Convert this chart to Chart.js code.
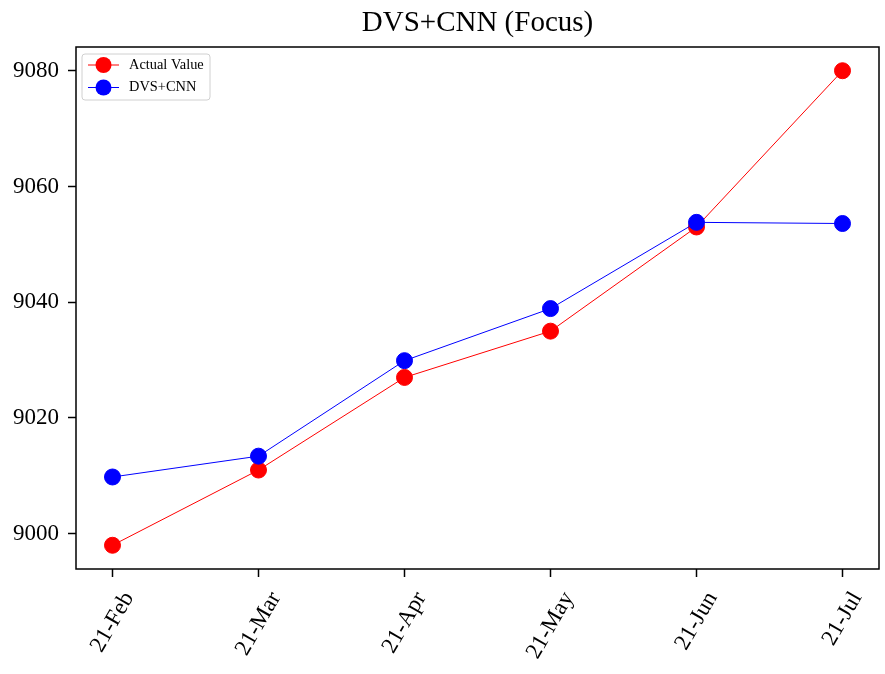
<!DOCTYPE html>
<html lang="en">
<head>
  <meta charset="UTF-8">
  <title>DVS+CNN (Focus)</title>
  <script src="https://cdn.jsdelivr.net/npm/chart.js"></script>
  <style>
    html, body { margin: 0; padding: 0; background: #fff; overflow: hidden; }
    #wrap { width: 885px; height: 674px; }
  </style>
</head>
<body>
  <div id="wrap"><canvas id="chart" width="885" height="674"></canvas></div>

  <script>
    // data
    const months = ['21-Feb', '21-Mar', '21-Apr', '21-May', '21-Jun', '21-Jul'];
    const actualValue = [8998, 9011, 9027, 9035, 9053, 9080];
    const dvsCnn = [9009.8, 9013.4, 9029.9, 9038.9, 9053.8, 9053.6];
    const yTicks = [9000, 9020, 9040, 9060, 9080];

    const serif = "'Liberation Serif', 'Times New Roman', serif";
    const toPoints = arr => arr.map((v, i) => ({ x: i, y: v }));

    // frame + rotated month labels + boxed legend, matplotlib style
    const decor = {
      id: 'decor',
      afterDraw(chart) {
        const { ctx, chartArea: a } = chart;
        const xs = chart.scales.x;
        ctx.save();
        ctx.strokeStyle = '#000';
        ctx.lineWidth = 1.5;
        ctx.strokeRect(a.left, a.top, a.right - a.left, a.bottom - a.top);

        // x labels, rotated 60deg, bbox centred under each tick
        ctx.font = '23px ' + serif;
        ctx.fillStyle = '#000';
        ctx.textAlign = 'center';
        ctx.textBaseline = 'middle';
        const ang = Math.PI / 3;
        months.forEach((m, i) => {
          const x = xs.getPixelForValue(i);
          const w = ctx.measureText(m).width;
          const h = 20;
          const bh = w * Math.sin(ang) + h * Math.cos(ang);
          ctx.save();
          ctx.translate(x, a.bottom + 20 + bh / 2);
          ctx.rotate(-ang);
          ctx.fillText(m, 0, 0);
          ctx.restore();
        });

        // legend
        const lx = a.left + 6, ly = a.top + 7, lw = 128, lh = 46;
        ctx.beginPath();
        ctx.roundRect(lx, ly, lw, lh, 3);
        ctx.fillStyle = 'rgba(255,255,255,0.8)';
        ctx.fill();
        ctx.strokeStyle = '#d0d0d0';
        ctx.lineWidth = 1;
        ctx.stroke();
        ctx.font = '14.4px ' + serif;
        ctx.textAlign = 'left';
        chart.data.datasets.forEach((ds, i) => {
          const y = ly + 11 + i * 22.5;
          ctx.strokeStyle = ds.borderColor;
          ctx.lineWidth = 1;
          ctx.beginPath();
          ctx.moveTo(lx + 6, y);
          ctx.lineTo(lx + 37, y);
          ctx.stroke();
          ctx.fillStyle = ds.backgroundColor;
          ctx.beginPath();
          ctx.arc(lx + 21.5, y, 8, 0, Math.PI * 2);
          ctx.fill();
          ctx.fillStyle = '#000';
          ctx.fillText(ds.label, lx + 47, y);
        });
        ctx.restore();
      }
    };

    new Chart(document.getElementById('chart'), {
      type: 'line',
      data: {
        datasets: [
          {
            label: 'Actual Value',
            data: toPoints(actualValue),
            borderColor: '#ff0000',
            backgroundColor: '#ff0000',
            borderWidth: 1,
            pointRadius: 8,
            pointBorderWidth: 1,
            pointHoverRadius: 8,
            order: 1
          },
          {
            label: 'DVS+CNN',
            data: toPoints(dvsCnn),
            borderColor: '#0000ff',
            backgroundColor: '#0000ff',
            borderWidth: 1,
            pointRadius: 8,
            pointBorderWidth: 1,
            pointHoverRadius: 8,
            order: 0
          }
        ]
      },
      options: {
        responsive: false,
        animation: false,
        layout: { autoPadding: false, padding: { left: 0, right: 6, top: 0, bottom: 0 } },
        plugins: {
          legend: { display: false },
          tooltip: { enabled: false },
          title: {
            display: true,
            text: 'DVS+CNN (Focus)',
            fullSize: false,
            color: '#000',
            font: { family: serif, size: 29, weight: 'normal', lineHeight: 1.2 },
            padding: { top: 6, bottom: 6.2 }
          }
        },
        scales: {
          x: {
            type: 'linear',
            min: -0.25,
            max: months.length - 0.75,
            afterBuildTicks: s => { s.ticks = months.map((_, i) => ({ value: i })); },
            afterFit: s => { s.height = 105; },
            ticks: { display: false },
            border: { display: false },
            grid: { drawOnChartArea: false, drawTicks: true, tickLength: 8, tickWidth: 1.5, tickColor: '#000' }
          },
          y: {
            min: 8993.9,
            max: 9084.1,
            afterBuildTicks: s => { s.ticks = yTicks.map(v => ({ value: v })); },
            afterFit: s => { s.width = 76; },
            ticks: {
              color: '#000',
              padding: 9,
              font: { family: serif, size: 23 },
              callback: v => String(v)
            },
            border: { display: false },
            grid: { drawOnChartArea: false, drawTicks: true, tickLength: 8, tickWidth: 1.5, tickColor: '#000' }
          }
        }
      },
      plugins: [decor]
    });
  </script>
</body>
</html>
